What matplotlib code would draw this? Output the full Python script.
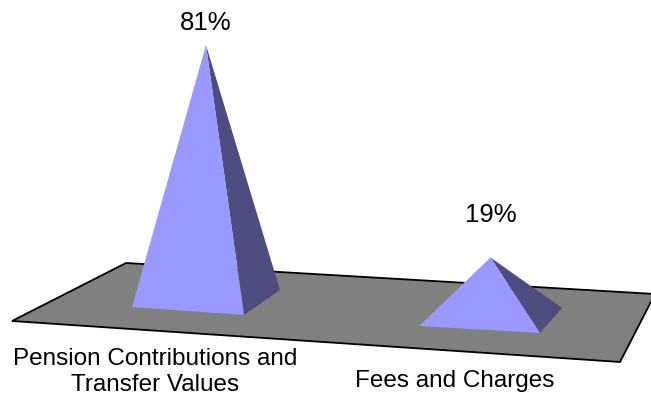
import matplotlib.pyplot as plt
from matplotlib.patches import Polygon

# data
categories = ['Pension Contributions and\nTransfer Values', 'Fees and Charges']
shares = [81, 19]
value_labels = ['81%', '19%']

# layout (pixel space, y grows downward)
base_centers = [(206, 298.5), (490.5, 317)]
front_half = [(56, 4), (60.5, 3.5)]
depth_half = [(18, -12.5), (11, -12.5)]
px_per_pct = 3.13
label_gap = [22, 43]
label_pos = [(155, 372), (455, 381)]
floor = [(12, 321), (126, 263), (655, 294), (620, 362)]

front_col = '#9999ff'
side_col = '#4d4d80'

plt.rcParams['font.family'] = ['Liberation Sans', 'DejaVu Sans']

fig = plt.figure(figsize=(6.51, 4.01), dpi=100)
ax = fig.add_axes([0, 0, 1, 1])
ax.set_xlim(0, 651)
ax.set_ylim(401, 0)
ax.axis('off')

# floor
ax.add_patch(Polygon(floor, closed=True, facecolor='#808080', edgecolor='black', linewidth=1.3))

for i, v in enumerate(shares):
    cx, cy = base_centers[i]
    fx, fy = front_half[i]
    dx, dy = depth_half[i]
    fl = (cx - fx - dx, cy - fy - dy)
    fr = (cx + fx - dx, cy + fy - dy)
    br = (cx + fx + dx, cy + fy + dy)
    apex = (cx, cy - v * px_per_pct)
    ax.add_patch(Polygon([fr, br, apex], closed=True, facecolor=side_col, edgecolor='none'))
    ax.add_patch(Polygon([fl, fr, apex], closed=True, facecolor=front_col, edgecolor='none'))
    ax.text(apex[0], apex[1] - label_gap[i], value_labels[i], ha='center', va='center', fontsize=18.5)
    ax.text(label_pos[i][0], label_pos[i][1], categories[i], ha='center', va='center',
            fontsize=17.5, linespacing=1.2)

fig.savefig('out.png', dpi=100)
